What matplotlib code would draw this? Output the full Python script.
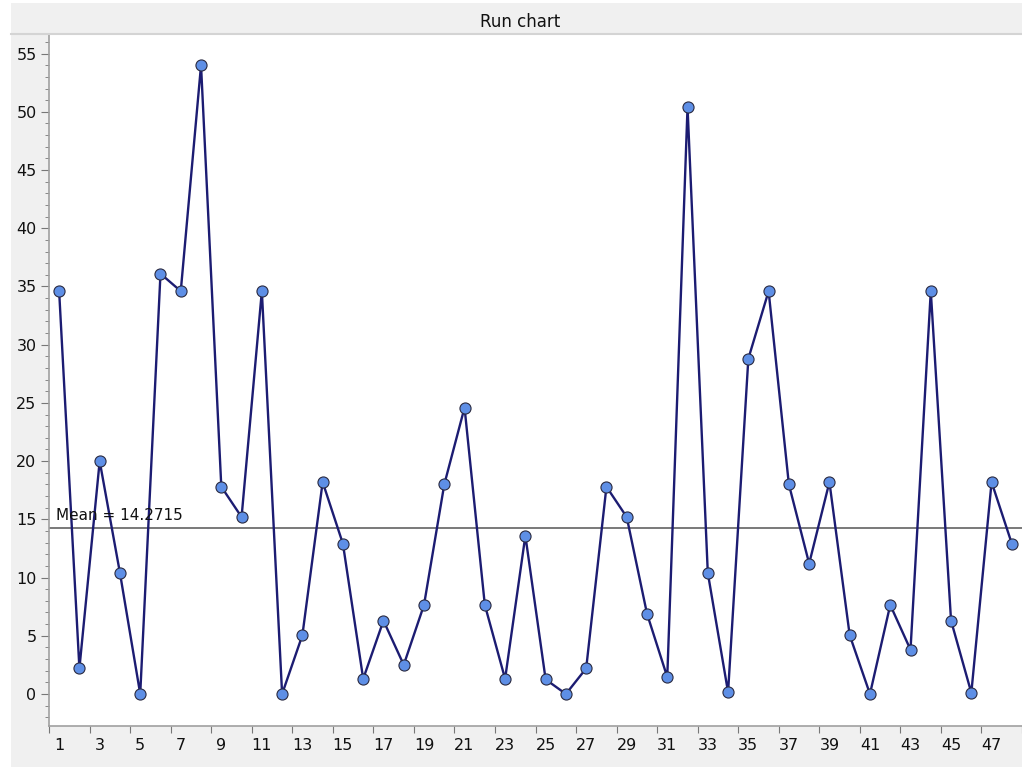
import numpy as np
import matplotlib.pyplot as plt
from matplotlib.patches import Rectangle
from matplotlib.ticker import MultipleLocator

# Values
sample = list(range(1, 49))
values = [34.6, 2.2, 20.0, 10.4, 0.0, 36.1, 34.6, 54.0, 17.8, 15.2,
          34.6, 0.0, 5.05, 18.2, 12.9, 1.3, 6.3, 2.5, 7.65, 18.0,
          24.6, 7.65, 1.3, 13.6, 1.25, 0.0, 2.2, 17.8, 15.2, 6.9,
          1.45, 50.4, 10.4, 0.15, 28.8, 34.6, 18.0, 11.2, 18.2, 5.05,
          0.0, 7.65, 3.8, 34.6, 6.3, 0.1, 18.2, 12.9]
mean_value = 14.2715
odd_labels = list(range(1, 49, 2))

fig = plt.figure(figsize=(10.22, 7.67), dpi=100)
fig.patch.set_facecolor('white')
fig.patches.append(Rectangle((11 / 1022, 0), 1, 1 - 3 / 767, transform=fig.transFigure,
                             facecolor='#f0f0f0', edgecolor='none', zorder=-10))
# separator line under the title bar
fig.add_artist(plt.Line2D([11 / 1022, 1], [1 - 34 / 767] * 2, transform=fig.transFigure,
                          color='#d4d4d4', lw=1.5))
fig.text(520 / 1022, 1 - 22 / 767, 'Run chart', ha='center', va='center',
         fontsize=12, color='#111111')

ax = fig.add_axes([49 / 1022, 41 / 767, 1 - 49 / 1022, (726 - 35) / 767])
ax.set_facecolor('white')

ax.plot(sample, values, color='#1c1c72', lw=1.7, zorder=3)
ax.plot(sample, values, 'o', ms=8, mfc='#5e8fe6', mec='#2a2a40', mew=0.8, zorder=4)

ax.axhline(mean_value, color='#555555', lw=1.1, zorder=2)
ax.text(0.85, mean_value + 0.4, f'Mean = {mean_value}', fontsize=11,
        color='#111111', va='bottom', ha='left')

ax.set_xlim(0.5, 48.18)
ax.set_ylim(-2.75, 56.6)

# y axis
ax.set_yticks(np.arange(0, 56, 5))
ax.yaxis.set_minor_locator(MultipleLocator(1))
ax.tick_params(axis='y', which='major', length=6, color='#777777', labelsize=11.5,
               labelcolor='#111111', pad=3)
ax.tick_params(axis='y', which='minor', length=3, color='#777777')

# x axis: tick marks between labels, labels on odd samples
ax.set_xticks(np.arange(0.5, 49, 2))
ax.set_xticklabels([])
ax.set_xticks(odd_labels, minor=True)
ax.set_xticklabels([str(v) for v in odd_labels], minor=True)
ax.tick_params(axis='x', which='major', length=5, color='#777777')
ax.tick_params(axis='x', which='minor', length=0, labelsize=11.5,
               labelcolor='#111111', pad=9)

for side in ['top', 'right']:
    ax.spines[side].set_visible(False)
for side in ['left', 'bottom']:
    ax.spines[side].set_color('#a0a0a0')
    ax.spines[side].set_linewidth(1.2)

fig.savefig('out.png', dpi=100, facecolor=fig.get_facecolor())
